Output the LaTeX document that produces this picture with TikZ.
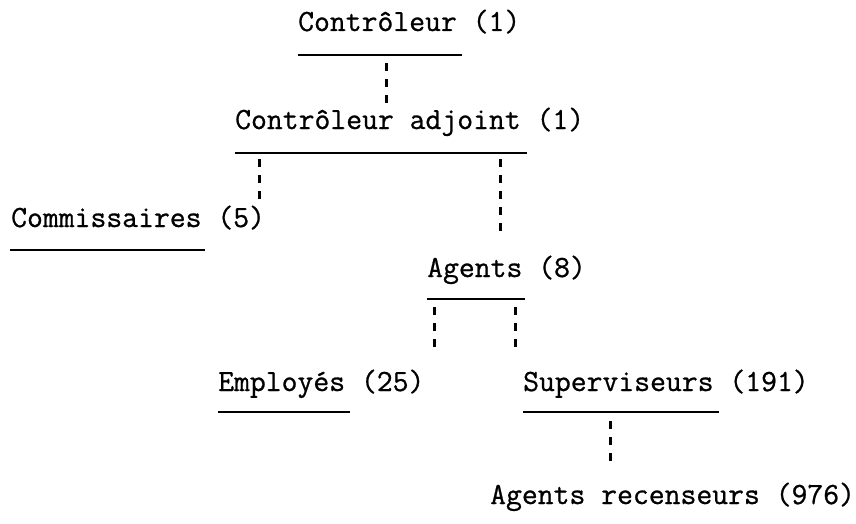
\documentclass[tikz,border=0pt]{standalone}
\usepackage{fontspec}
\newfontfamily\orgfont[FakeBold=0.8]{Latin Modern Mono}
\begin{document}
\begin{tikzpicture}[x=1pt, y=-1pt,
    lbl/.style={anchor=base west, inner sep=0pt, font=\orgfont\fontsize{30.8}{35}\selectfont},
    rule/.style={line width=1.6pt},
    link/.style={line width=3pt, dash pattern=on 8pt off 8pt}]

    % Rahmen
    \useasboundingbox (0,0) rectangle (856,524);

    % Stellen
    \node[lbl] (ctrl)   at (298,31)  {Contrôleur (1)};
    \node[lbl] (adj)    at (235,129) {Contrôleur adjoint (1)};
    \node[lbl] (comm)   at (11,227)  {Commissaires (5)};
    \node[lbl] (agents) at (427,277) {Agents (8)};
    \node[lbl] (empl)   at (218,391) {Employés (25)};
    \node[lbl] (sup)    at (523,391) {Superviseurs (191)};
    \node[lbl] (recens) at (490,504) {Agents recenseurs (976)};

    % Unterstreichungen
    \draw[rule] (ctrl.base west)   ++(0,24) -- ++(164,0);
    \draw[rule] (adj.base west)    ++(0,24) -- ++(292,0);
    \draw[rule] (comm.base west)   ++(-1,23) -- ++(195,0);
    \draw[rule] (agents.base west) ++(0,22) -- ++(98,0);
    \draw[rule] (empl.base west)   ++(0,21) -- ++(132,0);
    \draw[rule] (sup.base west)    ++(0,21) -- ++(196,0);

    % Verbindungen
    \coordinate (ctrl-a) at (386,63);  \coordinate (adj-t)  at (386,103);
    \coordinate (adj-a)  at (259,159); \coordinate (comm-t) at (259,200);
    \coordinate (adj-b)  at (500,159); \coordinate (ag-t)   at (500,234);
    \coordinate (ag-a)   at (434,307); \coordinate (empl-t) at (434,348);
    \coordinate (ag-b)   at (515,307); \coordinate (sup-t)  at (515,348);
    \coordinate (sup-a)  at (610,421); \coordinate (rec-t)  at (610,461);
    \foreach \s/\e in {ctrl-a/adj-t, adj-a/comm-t, adj-b/ag-t, ag-a/empl-t, ag-b/sup-t, sup-a/rec-t}
        \draw[link] (\s) -- (\e);

\end{tikzpicture}
\end{document}
